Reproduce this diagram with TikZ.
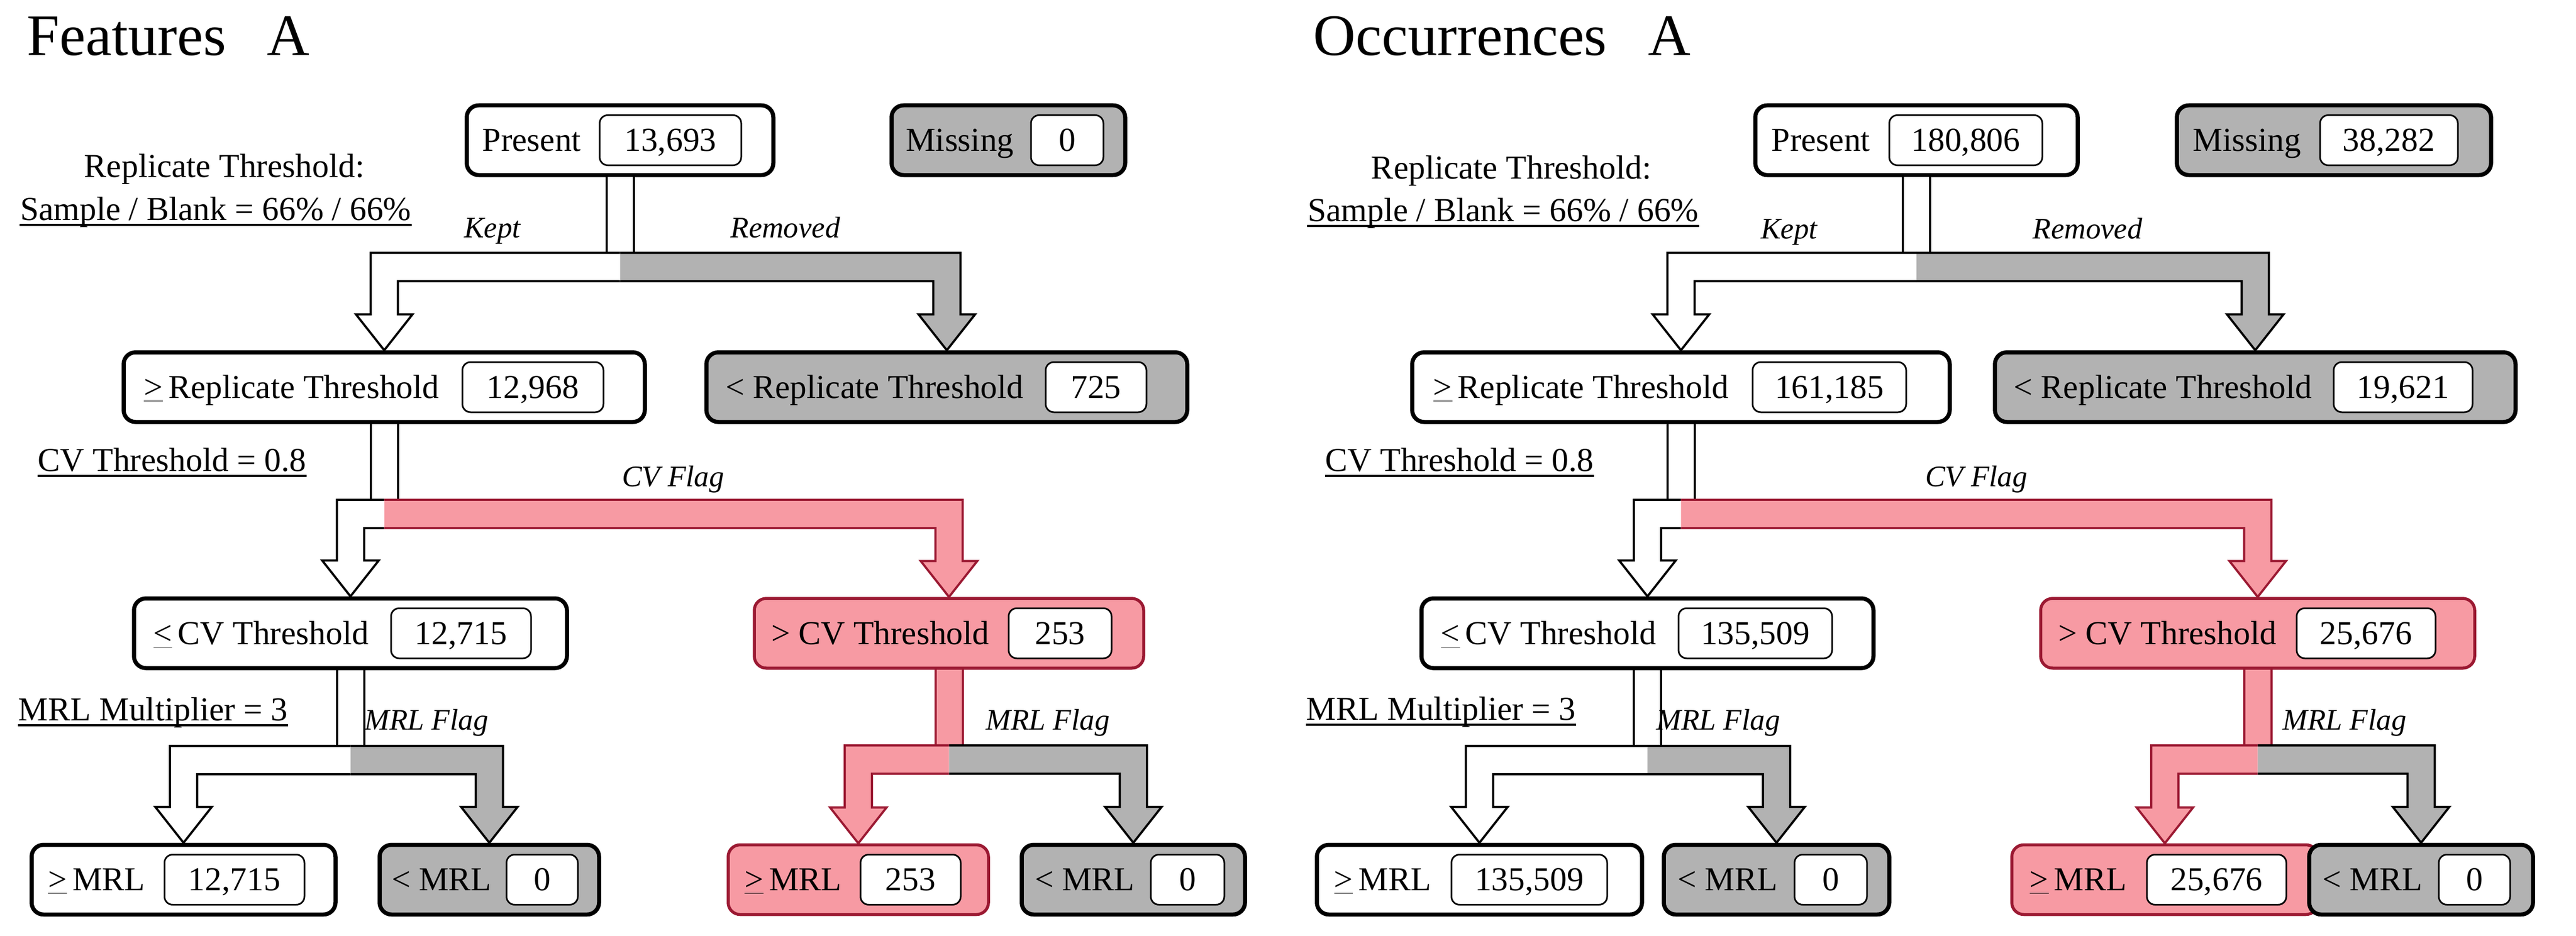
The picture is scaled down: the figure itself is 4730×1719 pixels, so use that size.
\documentclass[tikz,border=0pt]{standalone}
\usepackage{fontspec}
\setmainfont{Liberation Serif}
\usetikzlibrary{calc,fit}

\definecolor{pinkfill}{RGB}{247,154,163}
\definecolor{pinkline}{RGB}{155,25,50}
\definecolor{grayfill}{RGB}{178,178,178}

% Sizes of the block arrows
\def\hw{2.5mm}   % half shaft
\def\wing{5.2mm} % half head
\def\head{6.6mm} % head length
\def\drop{13.9mm}% box bottom -> bar top
\def\barw{5.2mm} % bar thickness

% Box with a label and a value: name, style, y, x1, x2, value x1, value x2, label, value
\newcommand{\flowbox}[9]{%
  \node[#2, fit={(#4,#3-64) (#5,#3+64)}] (#1) {};
  \node[valbox, fit={(#6,#3-46) (#7,#3+46)}] (#1v) {};
  \node[boxtext] (#1n) at (#1v.center) {#9};
  \node[boxtext] (#1l) at ($(#1.west)!0.5!(#1v.west)$) {#8};
}

% Split arrow: parent, left child, right child, stem style, left style, right style
\newcommand{\splitflow}[6]{%
  \fill[#4, draw=none] let \p1=(#1.south) in (\x1-\hw,\y1) rectangle (\x1+\hw,\y1-\drop);
  \draw[#4, fill=none] let \p1=(#1.south) in (\x1-\hw,\y1) -- (\x1-\hw,\y1-\drop) (\x1+\hw,\y1) -- (\x1+\hw,\y1-\drop);
  \filldraw[#5] let \p1=(#1.south), \p2=(#2.north) in
    (\x1,\y1-\drop-\barw) -- (\x2+\hw,\y1-\drop-\barw) -- (\x2+\hw,\y2+\head) -- (\x2+\wing,\y2+\head)
    -- (\x2,\y2) -- (\x2-\wing,\y2+\head) -- (\x2-\hw,\y2+\head) -- (\x2-\hw,\y1-\drop) -- (\x1,\y1-\drop);
  \filldraw[#6] let \p1=(#1.south), \p3=(#3.north) in
    (\x1,\y1-\drop) -- (\x3+\hw,\y1-\drop) -- (\x3+\hw,\y3+\head) -- (\x3+\wing,\y3+\head)
    -- (\x3,\y3) -- (\x3-\wing,\y3+\head) -- (\x3-\hw,\y3+\head) -- (\x3-\hw,\y1-\drop-\barw) -- (\x1,\y1-\drop-\barw);
}

\begin{document}
\begin{tikzpicture}[x=0.1mm, y=-0.1mm, line join=miter,
  whitebox/.style={draw=black, line width=0.75mm, fill=white, rounded corners=2.2mm, inner sep=0pt},
  graybox/.style={whitebox, fill=grayfill},
  pinkbox/.style={draw=pinkline, line width=0.55mm, fill=pinkfill, rounded corners=2.2mm, inner sep=0pt},
  valbox/.style={draw=black, line width=0.3mm, fill=white, rounded corners=1.5mm, inner sep=0pt},
  boxtext/.style={font=\fontsize{17.5}{21}\selectfont, inner sep=0pt, text height=4.07mm, text depth=0pt},
  flagtext/.style={font=\fontsize{15.6}{19}\selectfont\itshape, inner sep=0pt, text height=3.64mm, text depth=0pt},
  titletext/.style={font=\fontsize{30.7}{36}\selectfont, inner sep=0pt, anchor=base west},
  whiteflow/.style={fill=white, draw=black, line width=0.4mm},
  grayflow/.style={fill=grayfill, draw=black, line width=0.4mm},
  pinkflow/.style={fill=pinkfill, draw=pinkline, line width=0.4mm},
  rule/.style={line width=0.4mm}]
\useasboundingbox (0,0) rectangle (4730,1719);

% ---------- Features ----------
\node[titletext] (ftitle) at (49,102) {Features\hspace{0.7em}A};

\flowbox{fpresent}{whitebox}{257.5}{857}{1420}{1101}{1361}{Present}{13,693}
\flowbox{fmissing}{graybox}{257.5}{1637}{2066}{1893}{2026}{Missing}{0}
\flowbox{fgerep}{whitebox}{711}{227}{1184}{849}{1108}{\underline{>}\,Replicate Threshold}{12,968}
\flowbox{fltrep}{graybox}{711}{1297}{2180}{1920}{2105}{< Replicate Threshold}{725}
\flowbox{flecv}{whitebox}{1163}{246}{1041}{718}{975}{\underline{<}\,CV Threshold}{12,715}
\flowbox{fgtcv}{pinkbox}{1163}{1385}{2100}{1852}{2041}{> CV Threshold}{253}
\flowbox{fgemrla}{whitebox}{1615.5}{58}{616}{302}{559}{\underline{>}\,MRL}{12,715}
\flowbox{fltmrla}{graybox}{1615.5}{697}{1100}{930}{1061}{< MRL}{0}
\flowbox{fgemrlb}{pinkbox}{1615.5}{1337}{1815}{1580}{1764}{\underline{>}\,MRL}{253}
\flowbox{fltmrlb}{graybox}{1615.5}{1876}{2286}{2113}{2248}{< MRL}{0}

\splitflow{fpresent}{fgerep}{fltrep}{whiteflow}{whiteflow}{grayflow}
\splitflow{fgerep}{flecv}{fgtcv}{whiteflow}{whiteflow}{pinkflow}
\splitflow{flecv}{fgemrla}{fltmrla}{whiteflow}{whiteflow}{grayflow}
\splitflow{fgtcv}{fgemrlb}{fltmrlb}{pinkflow}{pinkflow}{grayflow}

% notes
\node[boxtext] (frepnote) at (412,305) {Replicate Threshold:};
\node[boxtext] (fsamplenote) at (396,384) {Sample / Blank = 66\% / 66\%};
\draw[rule] ([yshift=-0.8mm]fsamplenote.south west) -- ([yshift=-0.8mm]fsamplenote.south east);
\node[boxtext] (fcvnote) at (316,845) {CV Threshold = 0.8};
\draw[rule] ([yshift=-0.8mm]fcvnote.south west) -- ([yshift=-0.8mm]fcvnote.south east);
\node[boxtext] (fmrlnote) at (281,1303) {MRL Multiplier = 3};
\draw[rule] ([yshift=-0.8mm]fmrlnote.south west) -- ([yshift=-0.8mm]fmrlnote.south east);
\node[flagtext] (fkept) at (904,418) {Kept};
\node[flagtext] (fremoved) at (1442,418) {Removed};
\node[flagtext] (fcvflag) at (1236,875) {CV Flag};
\node[flagtext] (fmrlflaga) at (783,1322) {MRL Flag};
\node[flagtext] (fmrlflagb) at (1924,1322) {MRL Flag};

% ---------- Occurrences ----------
\node[titletext] (otitle) at (2411,102) {Occurrences\hspace{0.7em}A};

\flowbox{opresent}{whitebox}{257.5}{3223}{3815}{3469}{3750}{Present}{180,806}
\flowbox{omissing}{graybox}{257.5}{3997}{4574}{4260}{4513}{Missing}{38,282}
\flowbox{ogerep}{whitebox}{711}{2593}{3580}{3218}{3500}{\underline{>}\,Replicate Threshold}{161,185}
\flowbox{oltrep}{graybox}{711}{3663}{4619}{4285}{4540}{< Replicate Threshold}{19,621}
\flowbox{olecv}{whitebox}{1163}{2610}{3440}{3082}{3364}{\underline{<}\,CV Threshold}{135,509}
\flowbox{ogtcv}{pinkbox}{1163}{3747}{4544}{4217}{4472}{> CV Threshold}{25,676}
\flowbox{ogemrla}{whitebox}{1615.5}{2418}{3015}{2665}{2951}{\underline{>}\,MRL}{135,509}
\flowbox{oltmrla}{graybox}{1615.5}{3055}{3469}{3295}{3428}{< MRL}{0}
\flowbox{ogemrlb}{pinkbox}{1615.5}{3694}{4256}{3942}{4198}{\underline{>}\,MRL}{25,676}
\flowbox{oltmrlb}{graybox}{1615.5}{4240}{4651}{4478}{4609}{< MRL}{0}

\splitflow{opresent}{ogerep}{oltrep}{whiteflow}{whiteflow}{grayflow}
\splitflow{ogerep}{olecv}{ogtcv}{whiteflow}{whiteflow}{pinkflow}
\splitflow{olecv}{ogemrla}{oltmrla}{whiteflow}{whiteflow}{grayflow}
\splitflow{ogtcv}{ogemrlb}{oltmrlb}{pinkflow}{pinkflow}{grayflow}

% notes
\node[boxtext] (orepnote) at (2775,308) {Replicate Threshold:};
\node[boxtext] (osamplenote) at (2760,386) {Sample / Blank = 66\% / 66\%};
\draw[rule] ([yshift=-0.8mm]osamplenote.south west) -- ([yshift=-0.8mm]osamplenote.south east);
\node[boxtext] (ocvnote) at (2680,845) {CV Threshold = 0.8};
\draw[rule] ([yshift=-0.8mm]ocvnote.south west) -- ([yshift=-0.8mm]ocvnote.south east);
\node[boxtext] (omrlnote) at (2646,1302) {MRL Multiplier = 3};
\draw[rule] ([yshift=-0.8mm]omrlnote.south west) -- ([yshift=-0.8mm]omrlnote.south east);
\node[flagtext] (okept) at (3285,420) {Kept};
\node[flagtext] (oremoved) at (3833,420) {Removed};
\node[flagtext] (ocvflag) at (3629,875) {CV Flag};
\node[flagtext] (omrlflaga) at (3155,1322) {MRL Flag};
\node[flagtext] (omrlflagb) at (4305,1322) {MRL Flag};
\end{tikzpicture}
\end{document}
